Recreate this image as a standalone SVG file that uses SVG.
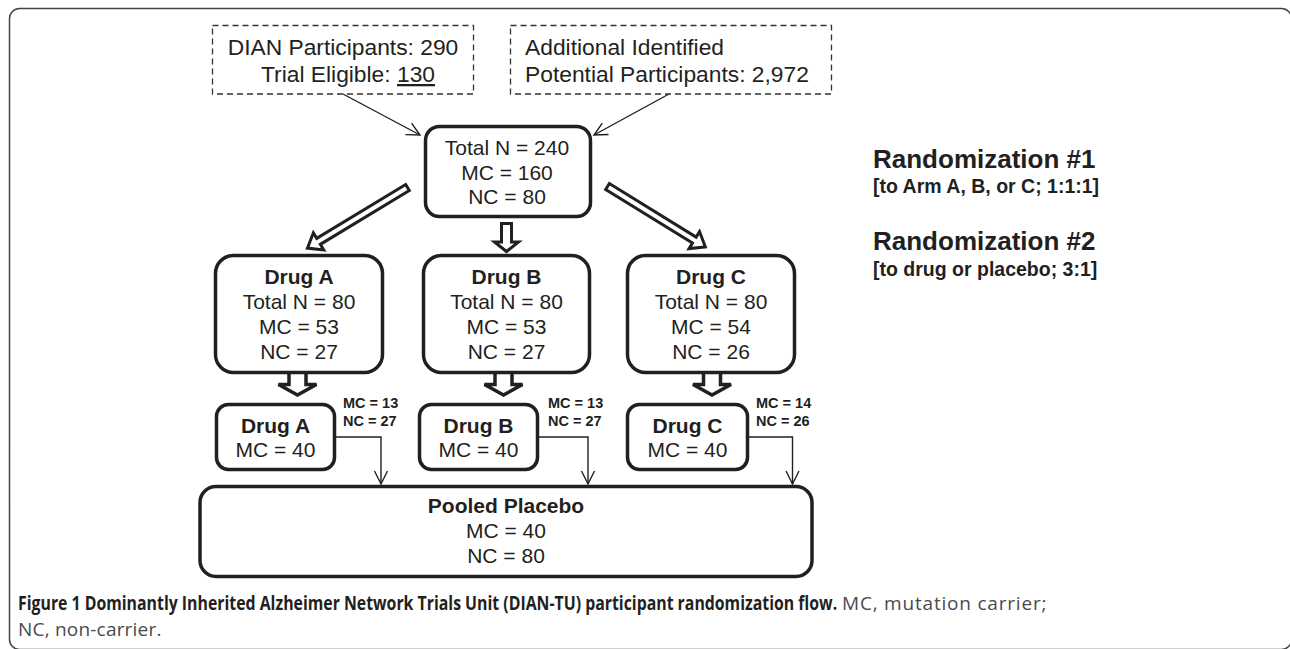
<svg xmlns="http://www.w3.org/2000/svg" width="1290" height="649" viewBox="0 0 1290 649">
<defs>
<style>
.t{font-family:"Liberation Sans",Arial,sans-serif;fill:#231f20}
.m{font-size:21px;text-anchor:middle}
.b{font-weight:bold}
.d{font-size:22.8px}
.s{font-size:14.5px;font-weight:bold}
.box{fill:#fff;stroke:#231f20;stroke-width:3.5}
.dash{fill:none;stroke:#333;stroke-width:1.3;stroke-dasharray:6 4}
.thin{fill:none;stroke:#231f20;stroke-width:1.4}
.hollow{fill:#fff;stroke:#231f20;stroke-width:3;stroke-linejoin:miter}
.cap{font-family:"Open Sans","Liberation Sans",sans-serif;font-size:19px}
</style>
<marker id="v" markerUnits="userSpaceOnUse" markerWidth="30" markerHeight="30" refX="0" refY="0" viewBox="-15 -15 30 30" orient="auto">
<path d="M-13,-6.5 L0,0 L-13,6.5" fill="none" stroke="#231f20" stroke-width="1.4"/>
</marker>
</defs>
<rect x="9.5" y="8.5" width="1282" height="641" rx="10" fill="none" stroke="#444" stroke-width="1.5"/>

<g id="connectors">
<line class="thin" x1="343" y1="94" x2="420" y2="135" marker-end="url(#v)"/>
<line class="thin" x1="669" y1="94" x2="594" y2="135" marker-end="url(#v)"/>
<path class="hollow" d="M-3.5,0 L3.5,0 L3.5,104 L10,104 L0,117 L-10,104 L-3.5,104 Z" transform="translate(407.5,187.5) rotate(58.8)"/>
<path class="hollow" d="M-3.5,0 L3.5,0 L3.5,102 L10,102 L0,115 L-10,102 L-3.5,102 Z" transform="translate(607.5,186.5) rotate(-58.3)"/>
<path class="hollow" d="M501.5,223.5 L511.5,223.5 L511.5,242 L518.5,242 L506.5,251.5 L494.5,242 L501.5,242 Z"/>
<path class="hollow" d="M289,373 L289,384.5 L278.5,384.5 L297.5,395 L316.5,384.5 L306,384.5 L306,373" style="stroke-width:3.5"/>
<path class="hollow" d="M495,373 L495,384.5 L484.5,384.5 L503.5,395 L522.5,384.5 L512,384.5 L512,373" style="stroke-width:3.5"/>
<path class="hollow" d="M703.5,373 L703.5,384.5 L693,384.5 L712,395 L731,384.5 L720.5,384.5 L720.5,373" style="stroke-width:3.5"/>
<polyline class="thin" points="335,437 381,437 381,484" marker-end="url(#v)"/>
<polyline class="thin" points="538,437 588,437 588,484" marker-end="url(#v)"/>
<polyline class="thin" points="748,437 792.5,437 792.5,484" marker-end="url(#v)"/>
</g>

<g id="dian">
<rect class="dash" x="212.5" y="25.5" width="261" height="68.5"/>
<text class="t d" x="343" y="55" text-anchor="middle">DIAN Participants: 290</text>
<text class="t d" x="348" y="82" text-anchor="middle">Trial Eligible: <tspan text-decoration="underline">130</tspan></text>
</g>

<g id="additional">
<rect class="dash" x="510.5" y="25.5" width="321" height="68.5"/>
<text class="t d" x="525" y="55">Additional Identified</text>
<text class="t d" x="525" y="82">Potential Participants: 2,972</text>
</g>

<g id="total">
<rect class="box" x="425.5" y="126.5" width="165" height="90" rx="14"/>
<text class="t m" x="507" y="155">Total N = 240</text>
<text class="t m" x="507" y="180">MC = 160</text>
<text class="t m" x="507" y="204">NC = 80</text>
</g>

<g id="rand1">
<text class="t b" x="873" y="168" font-size="26">Randomization #1</text>
<text class="t b" x="873" y="193" font-size="19.5">[to Arm A, B, or C; 1:1:1]</text>
</g>
<g id="rand2">
<text class="t b" x="873" y="250" font-size="26">Randomization #2</text>
<text class="t b" x="873" y="276" font-size="19.5">[to drug or placebo; 3:1]</text>
</g>

<g id="drugA">
<rect class="box" x="215.5" y="255.5" width="167" height="117" rx="18"/>
<text class="t m b" x="299" y="284">Drug A</text>
<text class="t m" x="299" y="309">Total N = 80</text>
<text class="t m" x="299" y="334">MC = 53</text>
<text class="t m" x="299" y="359">NC = 27</text>
</g>
<g id="drugB">
<rect class="box" x="423.5" y="255.5" width="166" height="117" rx="18"/>
<text class="t m b" x="506.5" y="284">Drug B</text>
<text class="t m" x="506.5" y="309">Total N = 80</text>
<text class="t m" x="506.5" y="334">MC = 53</text>
<text class="t m" x="506.5" y="359">NC = 27</text>
</g>
<g id="drugC">
<rect class="box" x="627.5" y="255.5" width="167" height="117" rx="18"/>
<text class="t m b" x="711" y="284">Drug C</text>
<text class="t m" x="711" y="309">Total N = 80</text>
<text class="t m" x="711" y="334">MC = 54</text>
<text class="t m" x="711" y="359">NC = 26</text>
</g>

<g id="drugA2">
<rect class="box" x="216.5" y="404.5" width="118" height="65" rx="12"/>
<text class="t m b" x="275.5" y="433">Drug A</text>
<text class="t m" x="275.5" y="457">MC = 40</text>
<text class="t s" x="343" y="408">MC = 13</text>
<text class="t s" x="343" y="426">NC = 27</text>
</g>
<g id="drugB2">
<rect class="box" x="419.5" y="404.5" width="118" height="65" rx="12"/>
<text class="t m b" x="478.5" y="433">Drug B</text>
<text class="t m" x="478.5" y="457">MC = 40</text>
<text class="t s" x="548" y="408">MC = 13</text>
<text class="t s" x="548" y="426">NC = 27</text>
</g>
<g id="drugC2">
<rect class="box" x="627.5" y="404.5" width="120" height="65" rx="12"/>
<text class="t m b" x="687.5" y="433">Drug C</text>
<text class="t m" x="687.5" y="457">MC = 40</text>
<text class="t s" x="756" y="408">MC = 14</text>
<text class="t s" x="756" y="426">NC = 26</text>
</g>

<g id="pooled">
<rect class="box" x="200" y="486.5" width="612" height="90" rx="16"/>
<text class="t m b" x="506" y="513">Pooled Placebo</text>
<text class="t m" x="506" y="538">MC = 40</text>
<text class="t m" x="506" y="563">NC = 80</text>
</g>

<g id="caption">
<text class="cap" transform="translate(18,610) scale(0.834,1)" x="0" y="0" font-weight="bold" fill="#231f20">Figure 1 Dominantly Inherited Alzheimer Network Trials Unit (DIAN-TU) participant randomization flow.</text>
<text class="cap" x="842" y="610" fill="#4a4a4a" font-size="20" letter-spacing="0.8">MC, mutation carrier;</text>
<text class="cap" x="18" y="636" fill="#4a4a4a" font-size="18" letter-spacing="0.2">NC, non-carrier.</text>
</g>
</svg>
